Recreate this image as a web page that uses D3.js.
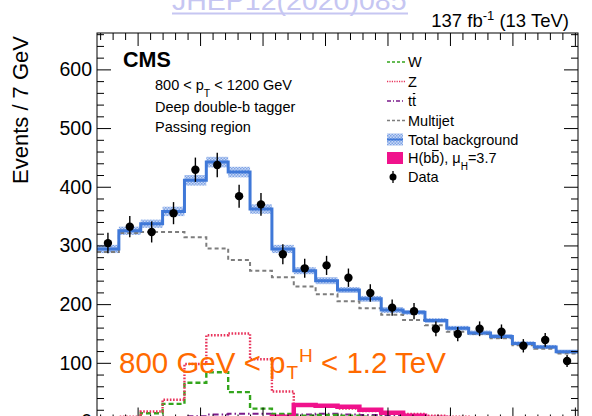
<!DOCTYPE html>
<html>
<head>
<meta charset="utf-8">
<script src="https://cdn.jsdelivr.net/npm/d3@7"></script>
<style>
html,body{margin:0;padding:0;background:#fff;}
svg{display:block;}
text{font-family:"Liberation Sans",Arial,Helvetica,sans-serif;}
</style>
</head>
<body>
<svg id="chart" width="592" height="416"></svg>
<script>
// ---- data (jet mass bins of 7 GeV, lower edges) ----
const binLow = [47,54,61,68,75,82,89,96,103,110,117,124,131,138,145,152,159,166,173,180,187,194];
const binWidth = 7;
const dataObs   = [304,332,323,355,429,437,384,370,285,261,266,245,219,194,188,158,149,158,153,129,139,103];
const totalBkg  = [294,325,337,358,411,442,425,362,294,257,240,224,209,190,186,172,159,151,145,133,127,119];
const bkgUnc    = [7,7,7,8,9,9,9,8,7,6,6,5,5,5,4,4,4,4,4,3.5,3.5,3.5];
const multijet  = [289,321,323,323,314,295,275,257,246,230,217,205,193,182,173,164,153,149,142,130,124,116];
const zJets     = [3,8,17,37,98,147,150,106,51,28,25,22,18,15,13,10,8,7,6,5,4,4];
const wJets     = [2,5,14,30,66,84,50,22,13,10,11,10,8,6,5,4,3,3,3,2,2,2];
const ttbar     = [2,3,5,7,9,12,13,13,12,12,13,12,11,10,9,8,7,6,6,5,5,4];
const higgs     = [0,1,1,2,3,4,5,4,8,28,27,25,20,15,10,6,4,3,2,2,1,1];
const yMajorTicks = [0,100,200,300,400,500,600];
const yTickLabels = ["0","100","200","300","400","500","600"];

const svg = d3.select("#chart");
const L = 97, R = 578, T = 33, B = 421.5;
const x = d3.scaleLinear().domain([47, 201]).range([L, R]);
const y = d3.scaleLinear().domain([0, 662]).range([B, T]);

// pattern for total background band
const defs = svg.append("defs");
const pat = defs.append("pattern").attr("id","hatch").attr("patternUnits","userSpaceOnUse")
  .attr("width",3).attr("height",3);
pat.append("rect").attr("width",3).attr("height",3).attr("fill","#c9d9f5");
pat.append("rect").attr("width",1.5).attr("height",1.5).attr("fill","#7fa3e6");
pat.append("rect").attr("x",1.5).attr("y",1.5).attr("width",1.5).attr("height",1.5).attr("fill","#7fa3e6");
const clip = defs.append("clipPath").attr("id","plotclip");
clip.append("rect").attr("x",L).attr("y",T).attr("width",R-L).attr("height",B-T);

const plot = svg.append("g").attr("clip-path","url(#plotclip)");

// uncertainty band
plot.selectAll("rect.band").data(binLow).enter().append("rect")
  .attr("x", d => x(d)).attr("width", d => x(d+binWidth)-x(d))
  .attr("y", (d,i) => y(totalBkg[i]+bkgUnc[i]))
  .attr("height", (d,i) => y(totalBkg[i]-bkgUnc[i]) - y(totalBkg[i]+bkgUnc[i]))
  .attr("fill","url(#hatch)");

function stepPath(vals){
  const pts = binLow.map((d,i)=>[d, vals[i]]);
  pts.push([binLow[binLow.length-1]+binWidth, vals[vals.length-1]]);
  return d3.line().x(d=>x(d[0])).y(d=>y(d[1])).curve(d3.curveStepAfter)(pts);
}
function drawStep(vals, color, width, dash){
  plot.append("path").attr("d", stepPath(vals)).attr("fill","none")
    .attr("stroke", color).attr("stroke-width", width)
    .attr("stroke-dasharray", dash || null);
}
drawStep(ttbar, "#7a1a8a", 2, "6,3,1.5,3");
drawStep(wJets, "#33a51c", 2.4, "5,3");
drawStep(zJets, "#e8325a", 2.4, "1.6,1.6");
drawStep(higgs, "#f0128c", 4.5);
drawStep(multijet, "#7d7d7d", 2, "4,3");
drawStep(totalBkg, "#3f78d8", 3);

// data points
const dg = plot.append("g");
dg.selectAll("line").data(dataObs).enter().append("line")
  .attr("x1",(d,i)=>x(binLow[i]+binWidth/2)).attr("x2",(d,i)=>x(binLow[i]+binWidth/2))
  .attr("y1",d=>y(d-Math.sqrt(d))).attr("y2",d=>y(d+Math.sqrt(d)))
  .attr("stroke","#000").attr("stroke-width",1.4);
dg.selectAll("circle").data(dataObs).enter().append("circle")
  .attr("cx",(d,i)=>x(binLow[i]+binWidth/2)).attr("cy",d=>y(d)).attr("r",4.2).attr("fill","#000");

// axes
const yMinor = d3.range(0, 661, 20).filter(v => v % 100 !== 0);
const xMajor = d3.range(60, 201, 20);
const xMinor = d3.range(48, 201, 4).filter(v => v % 20 !== 0);
function clean(g){ g.select(".domain").remove(); g.selectAll("line").attr("stroke","#000"); }

svg.append("g").attr("transform",`translate(${L},0)`)
  .call(d3.axisLeft(y).tickValues(yMajorTicks).tickSize(-14).tickPadding(5).tickFormat((d,i)=>yTickLabels[i]))
  .call(clean)
  .call(g=>g.selectAll("text").attr("font-size",19.5).attr("font-family","Liberation Sans, Arial, sans-serif").attr("fill","#000"));
svg.append("g").attr("transform",`translate(${L},0)`)
  .call(d3.axisLeft(y).tickValues(yMinor).tickSize(-7).tickFormat("")).call(clean);
svg.append("g").attr("transform",`translate(${R},0)`)
  .call(d3.axisRight(y).tickValues(yMajorTicks).tickSize(-14).tickFormat("")).call(clean);
svg.append("g").attr("transform",`translate(${R},0)`)
  .call(d3.axisRight(y).tickValues(yMinor).tickSize(-7).tickFormat("")).call(clean);
svg.append("g").attr("transform",`translate(0,${T})`)
  .call(d3.axisTop(x).tickValues(xMajor).tickSize(-13).tickFormat("")).call(clean);
svg.append("g").attr("transform",`translate(0,${T})`)
  .call(d3.axisTop(x).tickValues(xMinor).tickSize(-7).tickFormat("")).call(clean);
svg.append("g").attr("transform",`translate(0,${B})`)
  .call(d3.axisBottom(x).tickValues(xMajor).tickSize(-14).tickFormat("")).call(clean);
svg.append("g").attr("transform",`translate(0,${B})`)
  .call(d3.axisBottom(x).tickValues(xMinor).tickSize(-7).tickFormat("")).call(clean);

svg.append("rect").attr("x",L).attr("y",T).attr("width",R-L).attr("height",B-T)
  .attr("fill","none").attr("stroke","#000").attr("stroke-width",1);

// y label
svg.append("text").attr("transform","translate(28,36) rotate(-90)")
  .attr("text-anchor","end").attr("font-size",22).text("Events / 7 GeV");

// top texts
svg.append("text").attr("x",172).attr("y",10).attr("font-size",28.5)
  .attr("fill","#c6c6f2").text("JHEP12(2020)085");
svg.append("line").attr("x1",172).attr("x2",408).attr("y1",13.5).attr("y2",13.5)
  .attr("stroke","#c6c6f2").attr("stroke-width",2);

const lumi = svg.append("text").attr("x",569).attr("y",27).attr("text-anchor","end").attr("font-size",18.5);
lumi.append("tspan").text("137 fb");
lumi.append("tspan").attr("font-size",13).attr("dy",-7).text("-1");
lumi.append("tspan").attr("dy",7).text(" (13 TeV)");

// CMS labels
svg.append("text").attr("x",123).attr("y",67).attr("font-size",21.5).attr("font-weight","bold").text("CMS");
const t1 = svg.append("text").attr("x",155).attr("y",90).attr("font-size",14.5);
t1.append("tspan").text("800 < p");
t1.append("tspan").attr("font-size",10.5).attr("dy",7).text("T");
t1.append("tspan").attr("dy",-7).text(" < 1200 GeV");
svg.append("text").attr("x",155).attr("y",112).attr("font-size",14.5).text("Deep double-b tagger");
svg.append("text").attr("x",155).attr("y",132).attr("font-size",14.5).text("Passing region");

// legend
const lx0 = 387, lx1 = 405, tx = 408, fs = 14.5;
const rows = [67, 86.5, 106, 125.5, 144.5, 163, 182];
function legLine(r, color, w, dash){
  svg.append("line").attr("x1",lx0).attr("x2",lx1).attr("y1",rows[r]-5).attr("y2",rows[r]-5)
    .attr("stroke",color).attr("stroke-width",w).attr("stroke-dasharray",dash);
}
legLine(0,"#33a51c",1.6,"3,2");
legLine(1,"#e8325a",1.6,"1.2,1.2");
legLine(2,"#7a1a8a",1.6,"4,2,1,2");
legLine(3,"#7d7d7d",1.6,"3,2");
svg.append("rect").attr("x",lx0).attr("y",rows[4]-11).attr("width",lx1-lx0-2).attr("height",12).attr("fill","url(#hatch)");
svg.append("line").attr("x1",lx0).attr("x2",lx1-2).attr("y1",rows[4]-5).attr("y2",rows[4]-5).attr("stroke","#3f78d8").attr("stroke-width",2);
svg.append("rect").attr("x",lx0).attr("y",rows[5]-11).attr("width",lx1-lx0-2).attr("height",12).attr("fill","#f0128c");
svg.append("line").attr("x1",393).attr("x2",393).attr("y1",rows[6]-11).attr("y2",rows[6]+1).attr("stroke","#000").attr("stroke-width",1.3);
svg.append("circle").attr("cx",393).attr("cy",rows[6]-5).attr("r",3.5).attr("fill","#000");

function legText(r){ return svg.append("text").attr("x",tx).attr("y",rows[r]).attr("font-size",fs); }
legText(0).text("W");
legText(1).text("Z");
const ttT = legText(2).text("tt");
legText(3).text("Multijet");
legText(4).text("Total background");
const hT = legText(5);
hT.append("tspan").text("H(bb), μ");
hT.append("tspan").attr("font-size",10).attr("dy",7).text("H");
hT.append("tspan").attr("dy",-7).text("=3.7");
legText(6).text("Data");

function overbar(textSel, idx, base){
  const e = textSel.node().getExtentOfChar(idx);
  svg.append("line").attr("x1",e.x+0.8).attr("x2",e.x+e.width-0.8)
    .attr("y1",base-0.86*fs).attr("y2",base-0.86*fs).attr("stroke","#000").attr("stroke-width",1.1);
}
overbar(ttT, 1, rows[2]);
overbar(hT, 3, rows[5]);

// orange overlay
const ot = svg.append("text").attr("x",119).attr("y",373).attr("font-size",29.5)
  .attr("font-family","Lato, 'Open Sans', sans-serif").attr("fill","#ff6a00");
ot.append("tspan").text("800 GeV < p");
ot.append("tspan").attr("font-size",19).attr("dy",6).attr("dx",1).text("T");
ot.append("tspan").attr("font-size",19).attr("dy",-17).attr("dx",1).text("H");
ot.append("tspan").attr("dy",11).text(" < 1.2 TeV");
</script>
</body>
</html>
